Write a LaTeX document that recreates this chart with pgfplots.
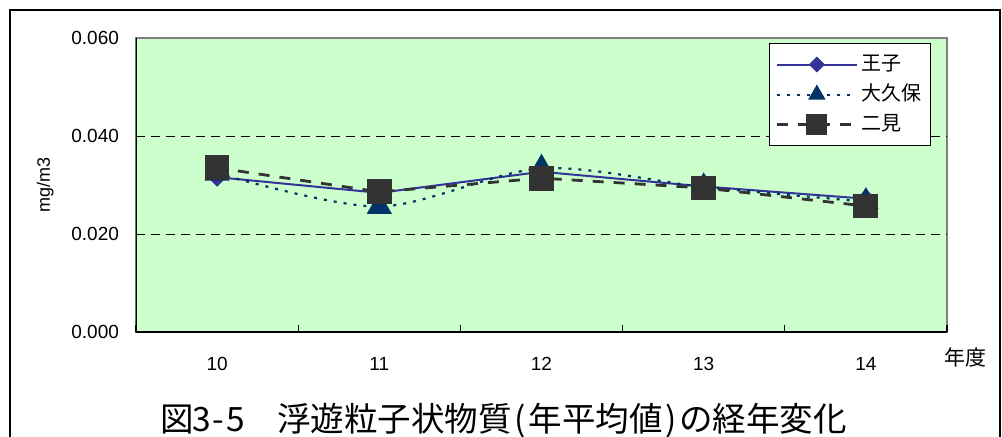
\documentclass[border=0pt]{standalone}
\usepackage{fontspec}
\setmainfont{Liberation Sans}
\newfontfamily\jp{Noto Sans CJK JP}
\usepackage{pgfplots}
\pgfplotsset{compat=1.18}
\definecolor{bgGreen}{HTML}{CCFFCC}
\definecolor{ojiC}{HTML}{333399}
\definecolor{okuboC}{HTML}{003366}
\definecolor{futamiC}{HTML}{333333}
\newcommand\hw[1]{\makebox[0.5em]{#1}}
\pgfplotstableread{
x oji okubo futami
10 0.0316 0.0324 0.0335
11 0.0284 0.0256 0.0286
12 0.0327 0.0334 0.0314
13 0.0297 0.0296 0.0294
14 0.0272 0.0266 0.0257
}\datatable
\begin{document}
\begin{tikzpicture}
\path[use as bounding box] (0pt,0pt) rectangle (501pt,218pt);
\draw[line width=0.6pt] (5pt,-10pt) rectangle (500pt,213pt);
\begin{axis}[
  at={(68pt,52pt)}, anchor=south west,
  scale only axis, width=405.5pt, height=147pt,
  xmin=9.5, xmax=14.5, ymin=0, ymax=0.06,
  axis background/.style={fill=bgGreen},
  axis line style={draw=gray, line width=1pt},
  xtick={10,11,12,13,14},
  xtick pos=lower, ytick pos=left,
  major tick length=0pt,
  extra x ticks={9.5,10.5,11.5,12.5,13.5,14.5},
  extra x tick labels={},
  extra x tick style={major tick length=3.5pt, tick align=inside, tick style={black, line width=0.6pt}},
  ytick={0,0.02,0.04,0.06},
  scaled y ticks=false,
  extra y ticks={0.02,0.04},
  extra y tick labels={},
  extra y tick style={grid=major, major grid style={black, line width=0.5pt, dash pattern=on 4.5pt off 3pt}},
  yticklabel style={/pgf/number format/fixed, /pgf/number format/fixed zerofill, /pgf/number format/precision=3, xshift=-5pt},
  /pgf/number format/assume math mode=true,
  xticklabel style={yshift=-9pt},
  tick label style={font=\fontsize{9.5}{11}\selectfont},
  ylabel={mg/m3},
  every axis y label/.style={at={(axis description cs:-0.112,0.5)}, rotate=90, anchor=center, font=\fontsize{9}{11}\selectfont},
  legend style={at={(rel axis cs:0.980,0.983)}, anchor=north east, draw=black, line width=0.5pt, fill=white,
    font=\jp\fontsize{10}{12}\selectfont, row sep=0pt, inner xsep=3pt, inner ysep=3pt,
    nodes={inner sep=1.5pt, text height=9pt, text depth=3pt}},
  legend cell align=left,
  legend image code/.code={\draw[mark repeat=2,mark phase=2,#1] plot coordinates {(0pt,0pt) (20pt,0pt) (40pt,0pt)};},
]
\addlegendimage{color=ojiC, line width=1pt, solid, mark=square*, mark size=2.3pt, mark options={rotate=45, solid, fill=ojiC, draw=ojiC}}
\addlegendentry{王子}
\addlegendimage{color=okuboC, line width=1pt, dash pattern=on 1.5pt off 3.5pt, mark=triangle*, mark size=4pt, mark options={solid, fill=okuboC, draw=okuboC}}
\addlegendentry{大久保}
\addlegendimage{color=futamiC, line width=1.4pt, dash pattern=on 5.5pt off 5pt, mark=square*, mark size=4.5pt, mark options={solid, fill=futamiC, draw=futamiC}}
\addlegendentry{二見}
\addplot[forget plot, color=ojiC, line width=1pt, mark=square*, mark size=2.9pt, mark options={rotate=45, solid, fill=ojiC, draw=ojiC}] table[x=x, y=oji] {\datatable};
\addplot[forget plot, color=okuboC, line width=1.1pt, smooth, tension=0.5, dash pattern=on 1.5pt off 3.5pt, mark=triangle*, mark size=6.2pt, mark options={solid, fill=okuboC, draw=okuboC}] table[x=x, y=okubo] {\datatable};
\addplot[forget plot, color=futamiC, line width=1.4pt, dash pattern=on 5.5pt off 5pt, mark=square*, mark size=5.5pt, mark options={solid, fill=futamiC, draw=futamiC}] table[x=x, y=futami] {\datatable};
\draw[black, line width=1pt] (rel axis cs:0,1) -- (rel axis cs:0,0) -- (rel axis cs:1,0);
\end{axis}
\node[font=\jp\fontsize{10.5}{12}\selectfont] at (482.5pt,39.5pt) {年度};
\node[font=\jp\fontsize{16.75}{18}\selectfont, anchor=base, inner sep=0pt] at (251.75pt,2.5pt) {図\hw{3}\hw{-}\hw{5}　浮遊粒子状物質\hw{(}年平均値\hw{)}の経年変化};
\end{tikzpicture}
\end{document}
